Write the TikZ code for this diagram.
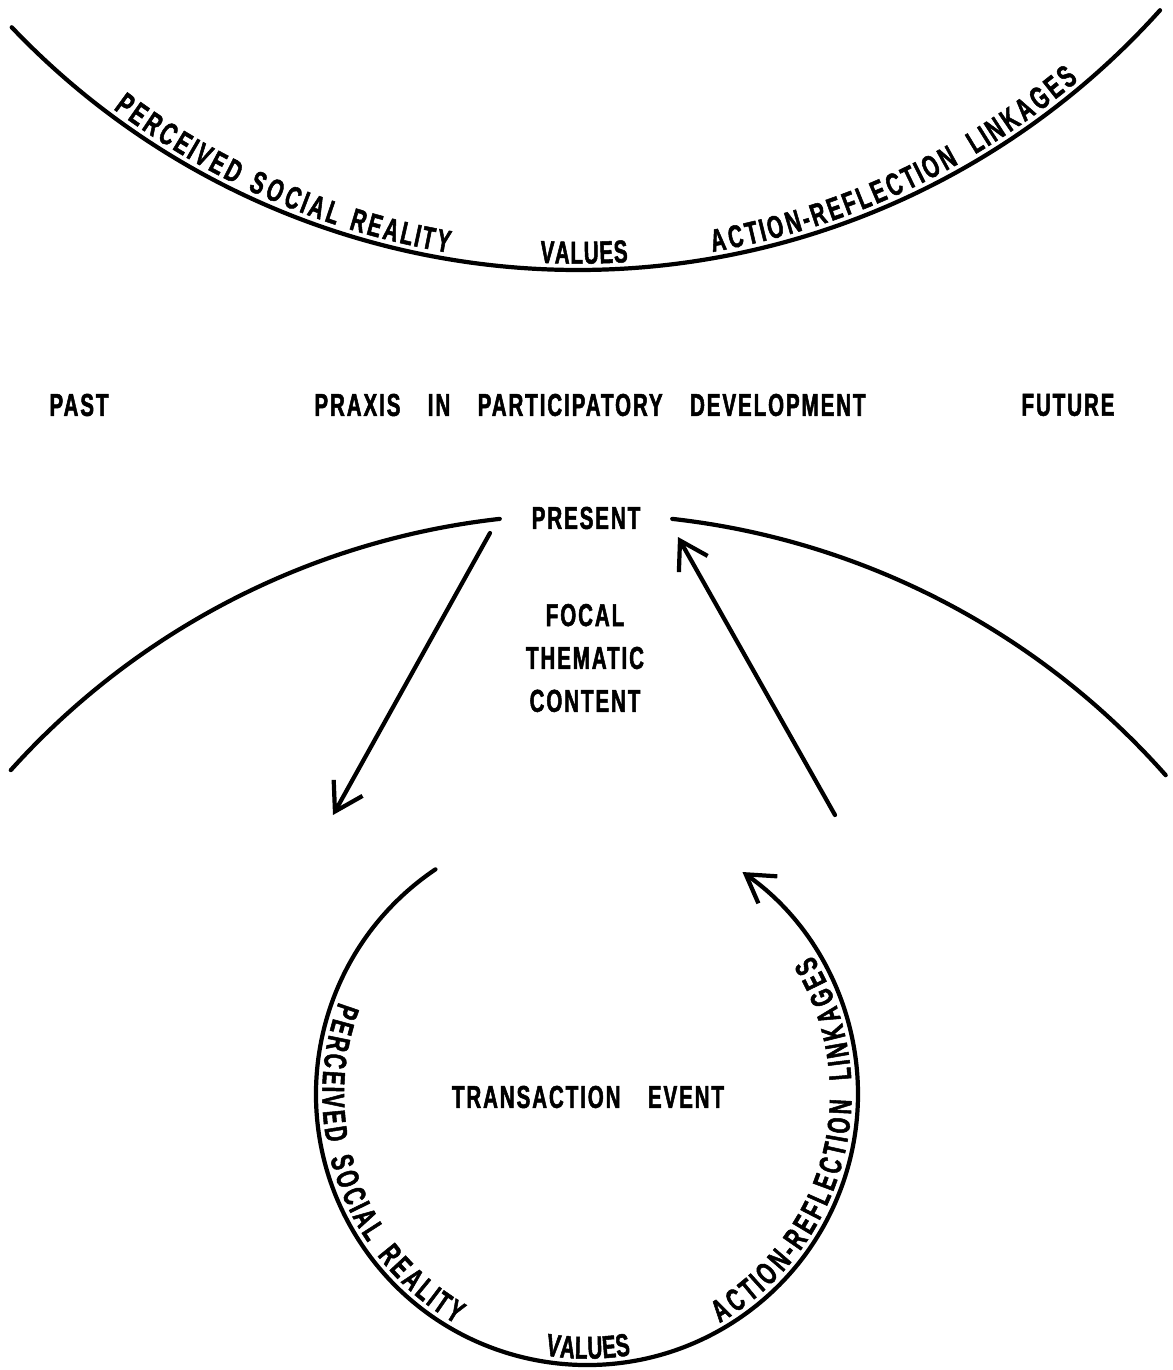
\documentclass[tikz,border=0pt]{standalone}
\usepackage{fontspec}
\newfontfamily\lblfont{Liberation Sans}[FakeStretch=0.65,FakeBold=1.6,LetterSpace=6,WordSpace=3.6]
\usetikzlibrary{positioning,arrows.meta,decorations.text}

\tikzset{
  curve/.style={line width=1.2pt,line cap=round},
  lbl/.style={font=\lblfont\bfseries\fontsize{9}{12.2}\selectfont,inner sep=0pt},
  barb/.style={curve,-{Straight Barb[length=2.7mm,width=3.3mm,line width=1.2pt]}},
  ontop/.style={decorate,decoration={text effects along path,text={#1},raise=1.8pt,
    text effects/.cd,text along path,fit text to path,
    characters={font=\lblfont\bfseries\fontsize{9}{12}\selectfont,inner sep=0pt}}}
}

\begin{document}
\begin{tikzpicture}[scale=1]
\useasboundingbox (0,0) rectangle (11.73,-13.70);

% upper arc
\coordinate (topc) at (5.78,5.12);
\draw[curve] ([shift={(223.6:7.82)}]topc) arc[start angle=223.6,end angle=318.1,radius=7.82];
\path[ontop={PERCEIVED}] ([shift={(233.2:7.82)}]topc) arc[start angle=233.2,end angle=243.8,radius=7.82];
\path[ontop={SOCIAL}] ([shift={(244.8:7.82)}]topc) arc[start angle=244.8,end angle=251.8,radius=7.82];
\path[ontop={REALITY}] ([shift={(252.8:7.82)}]topc) arc[start angle=252.8,end angle=260.4,radius=7.82];
\path[ontop={VALUES}] ([shift={(267.2:7.82)}]topc) arc[start angle=267.2,end angle=273.7,radius=7.82];
\path[ontop={ACTION-REFLECTION}] ([shift={(280.0:7.82)}]topc) arc[start angle=280.0,end angle=299.4,radius=7.82];
\path[ontop={LINKAGES}] ([shift={(300.8:7.82)}]topc) arc[start angle=300.8,end angle=310.2,radius=7.82];

\node[lbl] (past) at (0.79,-4.05) {PAST};
\node[lbl] (praxis) at (5.90,-4.05) {PRAXIS IN PARTICIPATORY DEVELOPMENT};
\node[lbl] (future) at (10.68,-4.05) {FUTURE};

% middle arcs
\coordinate (midc) at (5.86,-12.88);
\draw[curve] ([shift={(96.4:7.74)}]midc) arc[start angle=96.4,end angle=138,radius=7.74];
\draw[curve] ([shift={(83.6:7.74)}]midc) arc[start angle=83.6,end angle=41.5,radius=7.74];

\node[lbl] (present) at (5.86,-5.18) {PRESENT};
\node[lbl,align=center] (focal) at (5.85,-6.58) {FOCAL\\THEMATIC\\CONTENT};

\coordinate (downfrom) at (4.90,-5.33);
\coordinate (downto) at (3.33,-8.15);
\coordinate (upfrom) at (8.35,-8.15);
\coordinate (upto) at (6.78,-5.37);
\draw[barb] (downfrom) -- (downto);
\draw[barb] (upfrom) -- (upto);

% transaction circle
\coordinate (evc) at (5.87,-10.94);
\draw[barb] ([shift={(124:2.71)}]evc) arc[start angle=124,end angle=415,radius=2.71];
\path[ontop={PERCEIVED}] ([shift={(159.7:2.71)}]evc) arc[start angle=159.7,end angle=190.6,radius=2.71];
\path[ontop={SOCIAL}] ([shift={(194.1:2.71)}]evc) arc[start angle=194.1,end angle=214.1,radius=2.71];
\path[ontop={REALITY}] ([shift={(217.6:2.71)}]evc) arc[start angle=217.6,end angle=240.3,radius=2.71];
\path[ontop={VALUES}] ([shift={(261:2.71)}]evc) arc[start angle=261,end angle=279.5,radius=2.71];
\path[ontop={ACTION-REFLECTION}] ([shift={(300.1:2.71)}]evc) arc[start angle=300.1,end angle=358.7,radius=2.71];
\path[ontop={LINKAGES}] ([shift={(363.2:2.71)}]evc) arc[start angle=363.2,end angle=391.6,radius=2.71];

\node[lbl] (event) at (5.88,-10.97) {TRANSACTION EVENT};

\end{tikzpicture}
\end{document}
